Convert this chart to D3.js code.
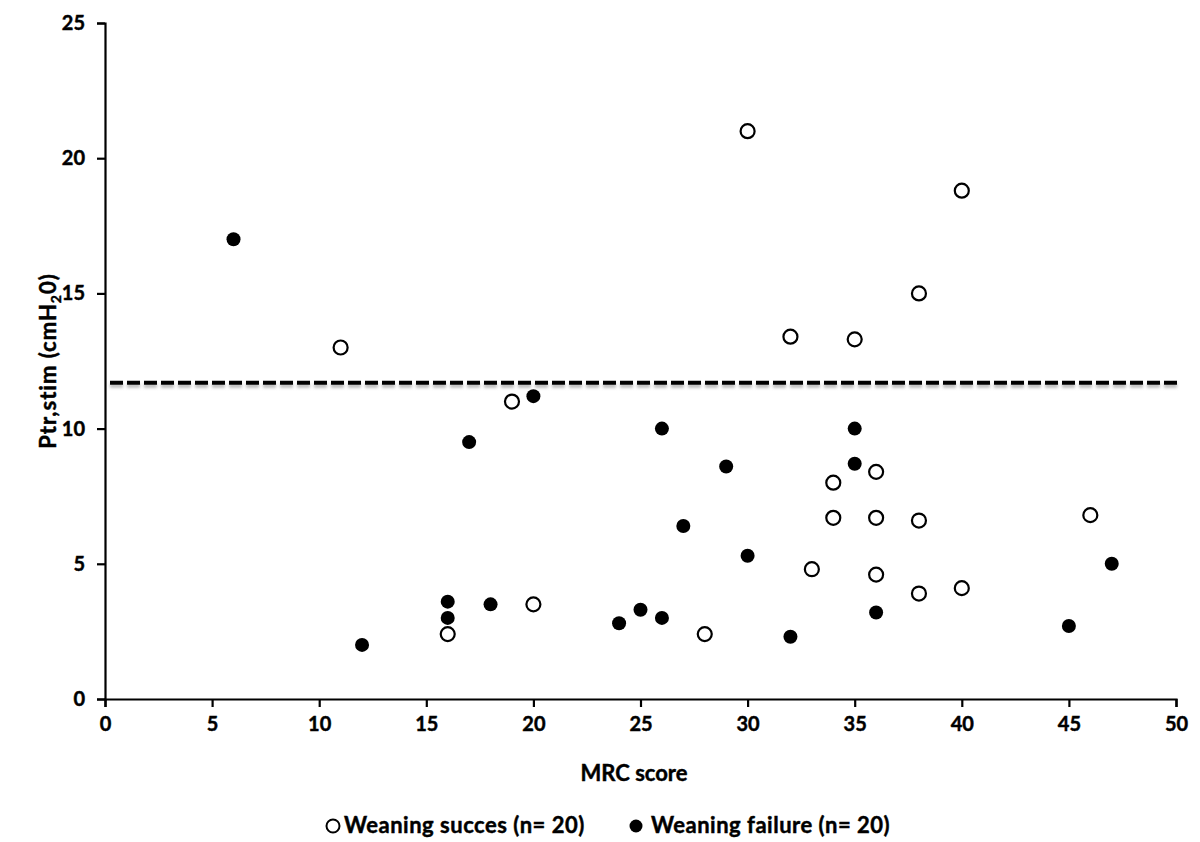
<!DOCTYPE html>
<html>
<head>
<meta charset="utf-8">
<script src="https://cdn.jsdelivr.net/npm/d3@7"></script>
<style>
  body { margin: 0; background: #fff; }
  text { font-family: Lato, "Open Sans", sans-serif; font-weight: bold; fill: #000; stroke: #000; stroke-width: 0.45px; }
</style>
</head>
<body>
<svg width="1200" height="842"></svg>
<script>
// Weaning success (open circles)
const successMRC  = [11, 16, 19, 20, 28, 30, 32, 33, 34, 34, 35, 36, 36, 36, 38, 38, 38, 40, 40, 46];
const successPtr  = [13, 2.4, 11, 3.5, 2.4, 21, 13.4, 4.8, 8.0, 6.7, 13.3, 8.4, 6.7, 4.6, 15, 6.6, 3.9, 18.8, 4.1, 6.8];
// Weaning failure (filled circles)
const failureMRC  = [6, 12, 16, 16, 17, 18, 20, 24, 25, 26, 26, 27, 29, 30, 32, 35, 35, 36, 45, 47];
const failurePtr  = [17, 2.0, 3.6, 3.0, 9.5, 3.5, 11.2, 2.8, 3.3, 3.0, 10, 6.4, 8.6, 5.3, 2.3, 10, 8.7, 3.2, 2.7, 5.0];
const cutoff = 11.7;
const xTicks = [0, 5, 10, 15, 20, 25, 30, 35, 40, 45, 50];
const yTicks = [0, 5, 10, 15, 20, 25];
const legendLabels = ["Weaning succes (n= 20)", "Weaning failure (n= 20)"];

const svg = d3.select("svg");
const margin = { left: 105, right: 24, top: 23, bottom: 143 };
const width = 1200, height = 842;

const x = d3.scaleLinear().domain([0, 50]).range([margin.left, width - margin.right]);
const y = d3.scaleLinear().domain([0, 25]).range([height - margin.bottom, margin.top]);

// blur for the shadow under the cut-off line
const defs = svg.append("defs");
defs.append("filter").attr("id", "blur")
    .attr("filterUnits", "userSpaceOnUse")
    .attr("x", 0).attr("y", 0).attr("width", width).attr("height", height)
    .append("feGaussianBlur").attr("stdDeviation", 1.6);

// axes
const xAxis = svg.append("g")
    .attr("transform", `translate(0,${y(0)})`)
    .call(d3.axisBottom(x).tickValues(xTicks).tickSize(8).tickSizeOuter(8).tickPadding(10));
const yAxis = svg.append("g")
    .attr("transform", `translate(${x(0)},0)`)
    .call(d3.axisLeft(y).tickValues(yTicks).tickSize(8).tickSizeOuter(8).tickPadding(12));

[xAxis, yAxis].forEach(a => {
    a.select(".domain").attr("stroke", "#000").attr("stroke-width", 2.2);
    a.selectAll(".tick line").attr("stroke", "#000").attr("stroke-width", 2.2);
    a.selectAll(".tick text").style("font-size", "20px").style("font-family", "Lato, sans-serif").style("font-weight", "bold");
});

// cut-off dashed line (gray shadow first, then black dashes)
const cy = y(cutoff);
svg.append("line")
    .attr("x1", x(0) + 5).attr("x2", x(50) + 3)
    .attr("y1", cy + 3).attr("y2", cy + 3)
    .attr("stroke", "#888").attr("stroke-opacity", 0.6).attr("stroke-width", 4)
    .attr("stroke-dasharray", "13,4")
    .attr("filter", "url(#blur)");
svg.append("line")
    .attr("x1", x(0) + 5).attr("x2", x(50) + 3)
    .attr("y1", cy).attr("y2", cy)
    .attr("stroke", "#000").attr("stroke-width", 4)
    .attr("stroke-dasharray", "13,4");

// points
const success = successMRC.map((d, i) => ({ x: d, y: successPtr[i] }));
const failure = failureMRC.map((d, i) => ({ x: d, y: failurePtr[i] }));

svg.append("g").selectAll("circle")
    .data(success)
    .enter()
    .append("circle")
    .attr("cx", d => x(d.x))
    .attr("cy", d => y(d.y))
    .attr("r", 7)
    .attr("fill", "#fff")
    .attr("stroke", "#000")
    .attr("stroke-width", 2.2);

svg.append("g").selectAll("circle")
    .data(failure)
    .enter()
    .append("circle")
    .attr("cx", d => x(d.x))
    .attr("cy", d => y(d.y))
    .attr("r", 7)
    .attr("fill", "#000");

// axis titles
svg.append("text")
    .attr("x", 634).attr("y", 781)
    .attr("text-anchor", "middle")
    .style("font-size", "22px")
    .text("MRC score");

const yt = svg.append("text")
    .attr("transform", "translate(56,361) rotate(-90)")
    .attr("text-anchor", "middle")
    .style("font-size", "22px")
    .style("letter-spacing", "1px");
yt.append("tspan").text("Ptr,stim (cmH");
yt.append("tspan").attr("dy", 5).style("font-size", "14px").text("2");
yt.append("tspan").attr("dy", -5).text("0)");

// legend
const legend = svg.append("g");
legend.append("circle").attr("cx", 333).attr("cy", 826).attr("r", 6.5)
    .attr("fill", "#fff").attr("stroke", "#000").attr("stroke-width", 2);
legend.append("text").attr("x", 344).attr("y", 833).style("font-size", "22px").style("letter-spacing", "0.5px").text(legendLabels[0]);
legend.append("circle").attr("cx", 636).attr("cy", 826).attr("r", 6.5).attr("fill", "#000");
legend.append("text").attr("x", 651).attr("y", 833).style("font-size", "22px").style("letter-spacing", "0.5px").text(legendLabels[1]);
</script>
</body>
</html>
